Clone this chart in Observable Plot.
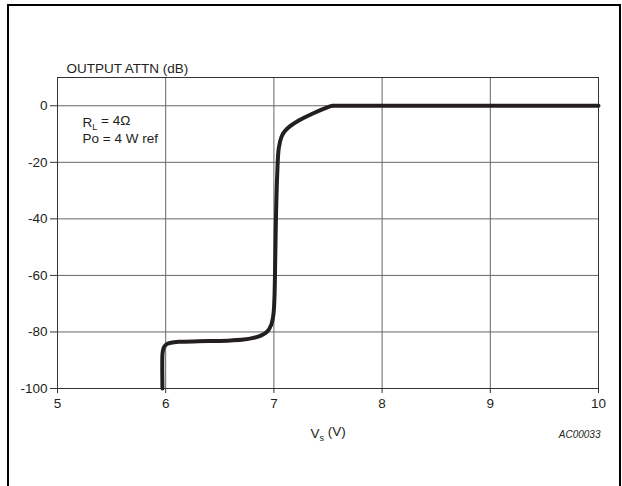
<!DOCTYPE html>
<html><head><meta charset="utf-8">
<script src="https://cdn.jsdelivr.net/npm/d3@7"></script>
<script src="https://cdn.jsdelivr.net/npm/@observablehq/plot@0.6"></script>
<style>
body{margin:0;background:#fff;}
#wrap{position:relative;width:622px;height:486px;overflow:hidden;background:#fff;}
#wrap svg{position:absolute;left:0;top:0;}
#border{position:absolute;left:7px;top:4px;width:610px;height:600px;border:2px solid #000;border-bottom:none;pointer-events:none;}
</style></head><body><div id="wrap"></div>
<script>
// Supply voltage (V)
const vs = [5.97, 5.97, 5.975, 5.985, 6.01, 6.05, 6.12, 6.3, 6.45, 6.6, 6.72, 6.81, 6.88, 6.94, 6.975, 6.995, 7.005, 7.012, 7.02, 7.03, 7.045, 7.07, 7.1, 7.15, 7.23, 7.35, 7.47, 7.54, 7.58, 7.65, 8, 9, 10];
// Output attenuation (dB)
const attn = [-100, -88, -86.5, -85.3, -84.3, -83.8, -83.5, -83.3, -83.2, -83.0, -82.7, -82.1, -81.3, -79.8, -77.5, -74, -68, -55, -38, -25, -15, -11, -9, -7.2, -5.2, -2.9, -0.9, 0, 0, 0, 0, 0, 0];
const xTicks = [5, 6, 7, 8, 9, 10];
const yTicks = [0, -20, -40, -60, -80, -100];
const yTitle = "OUTPUT ATTN (dB)";
const xTitle = "V_s (V)";
const notes = ["R_L = 4Ω", "Po = 4 W ref"];
const code = "AC00033";

const points = vs.map((v, i) => ({v, a: attn[i]}));
const ink = "#231f20";

const svg = Plot.plot({
  width: 622, height: 486,
  marginLeft: 57, marginRight: 24, marginTop: 77, marginBottom: 98,
  style: {fontFamily: "'Liberation Sans', Arial, sans-serif", fontSize: "13.5px", color: ink, background: "transparent"},
  x: {domain: [5, 10]},
  y: {domain: [-100, 10]},
  marks: [
    Plot.gridX(xTicks.slice(1, -1), {stroke: "#666", strokeOpacity: 1}),
    Plot.gridY(yTicks.slice(0, -1), {stroke: "#666", strokeOpacity: 1}),
    Plot.frame({stroke: "#333"}),
    Plot.axisX(xTicks, {tickSize: 5, tickPadding: 5, label: null, tickFormat: d => String(d), stroke: "#333"}),
    Plot.axisY(yTicks, {tickSize: 7, tickPadding: 3, label: null, tickFormat: d => String(d), stroke: "#333"}),
    Plot.line(points, {x: "v", y: "a", curve: "catmull-rom", stroke: ink, strokeWidth: 4, strokeLinejoin: "round"}),
    Plot.text([yTitle], {frameAnchor: "top-left", dx: 9, dy: -9, textAnchor: "start", lineAnchor: "middle", fill: ink}),
    Plot.text([notes[0]], {frameAnchor: "top-left", dx: 25, dy: 45, textAnchor: "start", lineAnchor: "middle", fill: ink}),
    Plot.text([notes[1]], {frameAnchor: "top-left", dx: 25, dy: 61, textAnchor: "start", lineAnchor: "middle", fill: ink}),
    Plot.text([xTitle], {frameAnchor: "bottom", dy: 45, lineAnchor: "middle", fill: ink}),
    Plot.text([code], {frameAnchor: "bottom-right", dx: 2, dy: 46, textAnchor: "end", lineAnchor: "middle", fontSize: 10, fontStyle: "italic", fill: ink})
  ]
});

// subscripts: "X_y rest"
d3.select(svg).selectAll("text").each(function () {
  const t = this.textContent;
  const i = t.indexOf("_");
  if (i < 0 || this.children.length) return;
  const sel = d3.select(this);
  sel.text(null);
  sel.append("tspan").text(t.slice(0, i));
  sel.append("tspan").attr("dy", "0.35em").attr("font-size", "9px").text(t[i + 1]);
  sel.append("tspan").attr("dy", "-0.35em").text(t.slice(i + 2));
});

const wrap = document.getElementById("wrap");
wrap.appendChild(svg);
const b = document.createElement("div");
b.id = "border";
wrap.appendChild(b);
</script>
</body></html>
